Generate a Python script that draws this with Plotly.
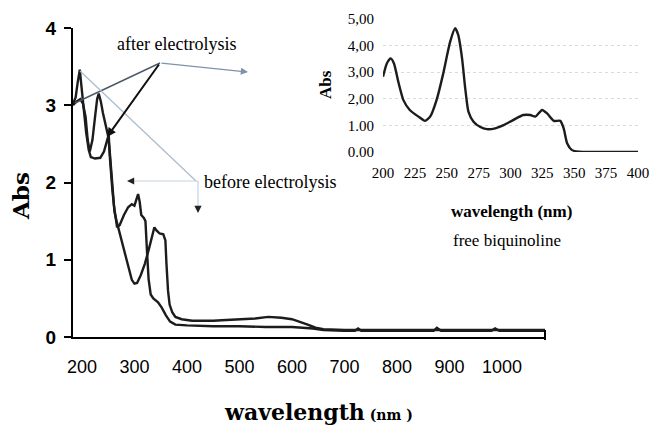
import plotly.graph_objects as go

W, H = 652, 432

# ---------------- data ----------------
before_wl = [183, 188, 192, 196, 199, 203, 208, 213, 217, 225, 235, 242, 248, 251, 253, 255, 258, 261,
             264, 267, 272, 280, 288, 295, 300, 304, 307, 310, 313, 318, 321, 324, 327, 331, 336, 345,
             352, 360, 368, 378, 400, 450, 500, 550, 600, 640, 660, 700, 720, 726, 732, 800, 870, 876,
             884, 980, 987, 995, 1082]
before_abs = [3.02, 3.10, 3.30, 3.46, 3.25, 2.95, 2.65, 2.42, 2.33, 2.31, 2.32, 2.40, 2.55, 2.62, 2.35, 2.15,
              1.90, 1.70, 1.52, 1.42, 1.45, 1.58, 1.68, 1.72, 1.70, 1.80, 1.85, 1.75, 1.58, 1.54, 1.50,
              1.10, 0.75, 0.55, 0.50, 0.45, 0.38, 0.28, 0.20, 0.16, 0.15, 0.14, 0.14, 0.13, 0.13, 0.11,
              0.09, 0.08, 0.08, 0.11, 0.08, 0.08, 0.08, 0.12, 0.08, 0.08, 0.11, 0.08, 0.08]

after_wl = [183, 190, 197, 202, 207, 211, 215, 220, 225, 229, 232, 236, 240, 245, 250, 253, 256, 259, 262,
            266, 272, 280, 288, 295, 300, 305, 312, 320, 328, 334, 338, 342, 348, 355, 359, 361, 364, 367,
            372, 378, 390, 410, 450, 475, 500, 530, 555, 580, 600, 615, 630, 645, 660, 700, 800, 900,
            1000, 1082]
after_abs = [3.00, 3.05, 3.08, 3.02, 2.85, 2.55, 2.40, 2.55, 2.85, 3.08, 3.15, 3.05, 2.90, 2.75, 2.60, 2.40,
             2.10, 1.85, 1.62, 1.50, 1.35, 1.15, 0.92, 0.74, 0.69, 0.70, 0.80, 0.95, 1.15, 1.32, 1.42,
             1.38, 1.34, 1.33, 1.25, 0.95, 0.60, 0.42, 0.32, 0.26, 0.23, 0.21, 0.21, 0.22, 0.23, 0.24,
             0.26, 0.25, 0.23, 0.20, 0.16, 0.12, 0.10, 0.09, 0.09, 0.09, 0.09, 0.09]

free_wl = [200, 203, 206, 208.6, 212, 216, 221, 227.8, 233, 237, 242, 247, 252.7, 256.6, 259, 262, 264.5,
           267, 271, 276, 281.5, 288, 294.6, 302, 310, 315.6, 319.5, 324.8, 328.7, 334, 339, 341.7,
           344.4, 348, 353.5, 370, 400]
free_abs = [2.83, 3.33, 3.52, 3.33, 2.64, 1.95, 1.58, 1.33, 1.17, 1.33, 1.95, 2.90, 4.15, 4.65, 4.40, 3.52,
            2.39, 1.52, 1.14, 0.95, 0.86, 0.89, 1.01, 1.20, 1.39, 1.39, 1.33, 1.58, 1.45, 1.17, 1.17,
            0.89, 0.33, 0.08, 0.01, 0.0, 0.0]

main_xticks = [200, 300, 400, 500, 600, 700, 800, 900, 1000]
main_xtick_text = ["200", "300", "400", "500", "600", "700", "800", "900", "1000"]
main_yticks = [0, 1, 2, 3, 4]
main_ytick_text = ["0", "1", "2", "3", "4"]
inset_xticks = [200, 225, 250, 275, 300, 325, 350, 375, 400]
inset_xtick_text = ["200", "225", "250", "275", "300", "325", "350", "375", "400"]
inset_yticks = [0, 1, 2, 3, 4, 5]
inset_ytick_text = ["0.00", "1.00", "2,00", "3,00", "4,00", "5,00"]


def px(x):
    return x / W


def py(y):
    return (H - y) / H


LINE = "#1c1c1c"
fig = go.Figure()
fig.add_trace(go.Scatter(x=before_wl, y=before_abs, mode="lines", line=dict(color=LINE, width=2.4),
                         xaxis="x", yaxis="y", showlegend=False))
fig.add_trace(go.Scatter(x=after_wl, y=after_abs, mode="lines", line=dict(color=LINE, width=2.4),
                         xaxis="x", yaxis="y", showlegend=False))
fig.add_trace(go.Scatter(x=free_wl, y=free_abs, mode="lines",
                         line=dict(color=LINE, width=2.4, shape="spline", smoothing=0.6),
                         xaxis="x2", yaxis="y2", showlegend=False))

fig.update_layout(
    width=W, height=H,
    margin=dict(l=0, r=0, t=0, b=0, autoexpand=False),
    paper_bgcolor="white", plot_bgcolor="rgba(0,0,0,0)",
    xaxis=dict(domain=[px(73), px(545)], range=[183, 1082], anchor="y", automargin=False,
               showline=True, linecolor="black", linewidth=2, ticks="",
               tickvals=main_xticks, ticktext=main_xtick_text,
               tickfont=dict(family="Liberation Sans", size=18, color="black"),
               ticklabelstandoff=12, showgrid=False, zeroline=False),
    yaxis=dict(domain=[py(337), py(28)], range=[0, 4], anchor="x", automargin=False,
               showline=True, linecolor="black", linewidth=2, ticks="outside", ticklen=7,
               tickwidth=2, tickcolor="black",
               tickvals=main_yticks, ticktext=main_ytick_text,
               tickfont=dict(family="Liberation Sans", size=19, color="black", weight="bold"),
               ticklabelstandoff=4, showgrid=False, zeroline=False),
    xaxis2=dict(domain=[px(383), px(638)], range=[200, 400], anchor="y2", automargin=False,
                showline=False, ticks="", tickvals=inset_xticks, ticktext=inset_xtick_text,
                tickfont=dict(family="Liberation Serif", size=15, color="black"),
                ticklabelstandoff=10, showgrid=False, zeroline=False),
    yaxis2=dict(domain=[py(152), py(19)], range=[0, 5], anchor="x2", automargin=False,
                showline=False, ticks="", tickvals=inset_yticks, ticktext=inset_ytick_text,
                tickfont=dict(family="Liberation Serif", size=15, color="black"),
                ticklabelstandoff=8, showgrid=True, gridcolor="#cfdde8", griddash="dot",
                gridwidth=1, zeroline=False),
)

annotations = []


def text(x, y, t, size, family, xanchor="center", angle=0, bold=False):
    annotations.append(dict(x=px(x), y=py(y), xref="paper", yref="paper", text=t, showarrow=False,
                            xanchor=xanchor, yanchor="middle", textangle=angle,
                            font=dict(family=family, size=size, color="black",
                                      weight="bold" if bold else "normal")))


def arrow(x0, y0, x1, y1, color, width, head=2, size=1.0):
    annotations.append(dict(x=px(x1), y=py(y1), ax=x0 - x1, ay=y0 - y1, xref="paper", yref="paper",
                            axref="pixel", ayref="pixel", text="", showarrow=True,
                            arrowhead=head, arrowsize=size, arrowwidth=width, arrowcolor=color,
                            standoff=0, startstandoff=0))


shapes = []


def seg(x0, y0, x1, y1, color, width):
    shapes.append(dict(type="line", xref="paper", yref="paper", x0=px(x0), y0=py(y0), x1=px(x1),
                       y1=py(y1), line=dict(color=color, width=width)))


# titles
text(20, 196, "Abs", 23, "DejaVu Serif", angle=-90, bold=True)
text(222, 412, 'wavelength<span style="font-size:14px"> (nm )</span>', 22, "DejaVu Serif",
     xanchor="left", bold=True)
text(325, 85, "Abs", 17, "Liberation Serif", angle=-90, bold=True)
text(511, 211, "wavelength (nm)", 17, "Liberation Serif", bold=True)
text(507, 240, "free biquinoline", 17, "Liberation Serif")

# labels
text(176, 44, "after electrolysis", 18, "Liberation Serif")
text(202, 182, "before electrolysis", 18, "Liberation Serif", xanchor="left")

# after electrolysis pointers
seg(160, 63, 75, 103, "#4a5868", 1.4)
arrow(160, 63, 107, 137, "#111111", 2, head=2, size=0.9)
arrow(160, 63, 248, 72, "#7d93a8", 1.2, head=2, size=1.2)

# before electrolysis pointers
seg(196, 181, 80, 71, "#a9bccc", 1.2)
seg(198, 181, 131, 181, "#c3d3e0", 1.2)
arrow(134, 181, 127, 181, "#222222", 1.2, head=2, size=1.2)
seg(198, 181, 198, 208, "#c3d3e0", 1.2)
arrow(198, 207, 198, 213, "#222222", 1.2, head=2, size=1.2)

# right end cap of main x axis
seg(545, 330, 545, 340, "black", 2)

fig.update_layout(annotations=annotations, shapes=shapes)
fig.write_html("out.html", config={"displayModeBar": False},
               post_script="document.body.style.margin='0px';document.body.style.overflow='hidden';")
